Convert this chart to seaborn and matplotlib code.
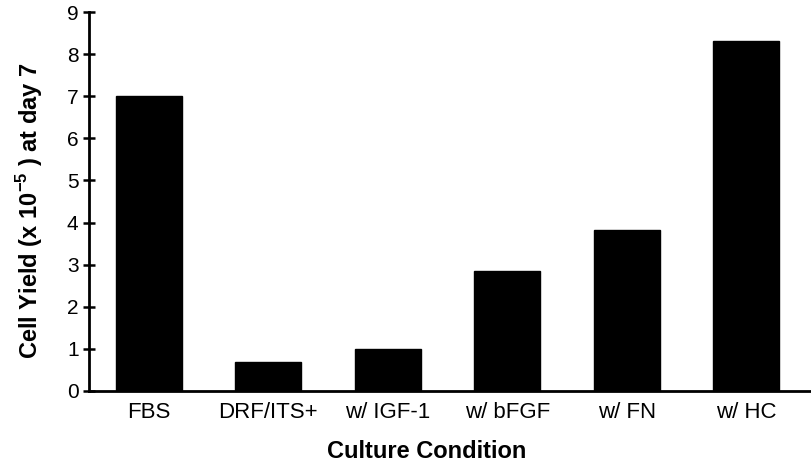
import matplotlib
matplotlib.use("Agg")
import matplotlib.pyplot as plt
import seaborn as sns
import pandas as pd

conditions = ["FBS", "DRF/ITS+", "w/ IGF-1", "w/ bFGF", "w/ FN", "w/ HC"]
cell_yield = [7.0, 0.7, 1.0, 2.85, 3.82, 8.3]
y_ticks = [0, 1, 2, 3, 4, 5, 6, 7, 8, 9]

sns.set_theme(style="white")
plt.rcParams["font.family"] = ["Liberation Sans", "DejaVu Sans"]
plt.rcParams["mathtext.fontset"] = "custom"
plt.rcParams["mathtext.rm"] = "Liberation Sans"
plt.rcParams["mathtext.bf"] = "Liberation Sans:bold"

df = pd.DataFrame({"Condition": conditions, "Yield": cell_yield})

fig = plt.figure(figsize=(8.12, 4.67), dpi=100)
ax = fig.add_axes([89 / 812, 1 - 391 / 467, 1 - 89 / 812, (391 - 12) / 467])

sns.barplot(data=df, x="Condition", y="Yield", color="black", width=0.55,
            saturation=1, ax=ax)
for p in ax.patches:
    p.set_edgecolor("black")

ax.set_ylim(0, 9)
ax.set_xlim(-0.5, 5.55)
ax.set_yticks(y_ticks)
ax.set_yticklabels([str(t) for t in y_ticks], fontsize=15)
ax.tick_params(axis="y", direction="inout", length=9, width=1.8, color="black",
               left=True, pad=3)
ax.tick_params(axis="x", length=0, labelsize=16, pad=8)
for lbl in ax.get_xticklabels():
    lbl.set_color("black")
for lbl in ax.get_yticklabels():
    lbl.set_color("black")

for side in ["top", "right"]:
    ax.spines[side].set_visible(False)
for side in ["left", "bottom"]:
    ax.spines[side].set_color("black")
    ax.spines[side].set_linewidth(2)

ax.set_xlabel("Culture Condition", fontsize=17, fontweight="bold", labelpad=12,
              color="black")
ax.set_ylabel(r"Cell Yield (x 10$^{\mathbf{-5}}$ ) at day 7", fontsize=17,
              fontweight="bold", labelpad=16, color="black")
ax.xaxis.label.set_x(0.467)
ax.yaxis.label.set_y(0.475)

fig.savefig("out.png", dpi=100)
